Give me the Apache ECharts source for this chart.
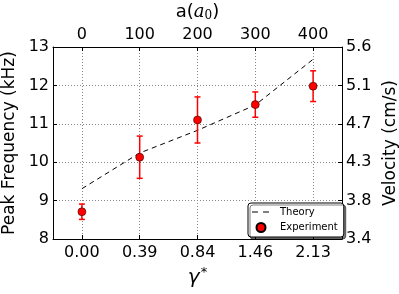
<!DOCTYPE html>
<html><head><meta charset="utf-8">
<script src="https://cdn.jsdelivr.net/npm/echarts@6/dist/echarts.min.js"></script>
<style>html,body{margin:0;padding:0;background:#fff}#c{width:399px;height:294px}</style>
</head><body><div id="c"></div>
<script>
const aValues = [0, 100, 200, 300, 400];
const gammaLabels = ['0.00', '0.39', '0.84', '1.46', '2.13'];
const freqTicks = [8, 9, 10, 11, 12, 13];
const velocityLabels = ['3.4', '3.8', '4.3', '4.7', '5.1', '5.6'];
const theory = [9.31, 10.24, 10.83, 11.49, 12.68];
const experiment = [8.71, 10.13, 11.1, 11.5, 11.98];
const experimentErr = [0.2, 0.55, 0.6, 0.33, 0.4];

const FONT = 'DejaVu Sans';
const chart = echarts.init(document.getElementById('c'), null, {renderer: 'canvas'});
const axisLine = {show: true, onZero: false, lineStyle: {color: '#000', width: 1}};
const tick = {show: true, inside: true, length: 4, lineStyle: {color: '#000'}, customValues: aValues};
const grid = {show: true, lineStyle: {color: '#888', type: [1, 2], width: 1}};
const dashIcon = 'path://M0,0L0.05,0L0,0.05Z M0,9L0.05,9L0,8.95Z M1,4L7,4L7,5.1L1,5.1Z M12,4L18,4L18,5.1L12,5.1Z M19.95,0L20,0L20,0.05Z';

chart.setOption({
  animation: false,
  backgroundColor: '#fff',
  grid: {left: 53, right: 57, top: 47, bottom: 55, containLabel: false, outerBoundsMode: 'none'},
  xAxis: [{
    type: 'value', position: 'bottom', min: -50, max: 450,
    axisLine: axisLine, axisTick: tick, splitLine: grid,
    axisLabel: {customValues: aValues, color: '#000', fontFamily: FONT, fontSize: 16, margin: 6,
      formatter: v => gammaLabels[aValues.indexOf(v)]},
    name: '{g|γ}{s|*}', nameLocation: 'middle', nameGap: 23,
    nameTextStyle: {rich: {
      g: {fontFamily: FONT, fontStyle: 'italic', fontSize: 20, color: '#000'},
      s: {fontFamily: FONT, fontSize: 13, color: '#000', verticalAlign: 'top', padding: [0, 0, 10, 1]}
    }}
  }, {
    type: 'value', position: 'top', min: -50, max: 450,
    axisLine: axisLine, axisTick: tick, splitLine: {show: false},
    axisLabel: {customValues: aValues, color: '#000', fontFamily: FONT, fontSize: 16, margin: 4},
    name: '{t|a(}{i|a}{sub|0}{t|)}', nameLocation: 'middle', nameGap: 25,
    nameTextStyle: {rich: {
      t: {fontFamily: FONT, fontSize: 18, color: '#000'},
      i: {fontFamily: 'DejaVu Serif', fontStyle: 'italic', fontSize: 18, color: '#000'},
      sub: {fontFamily: 'DejaVu Serif', fontSize: 12, color: '#000', padding: [8, 0, 0, 0]}
    }}
  }],
  yAxis: [{
    type: 'value', position: 'left', min: 8, max: 13, interval: 1,
    axisLine: axisLine, axisTick: {show: true, inside: true, length: 4, lineStyle: {color: '#000'}},
    splitLine: grid,
    axisLabel: {color: '#000', fontFamily: FONT, fontSize: 16, margin: 4},
    name: 'Peak Frequency (kHz)', nameLocation: 'middle', nameGap: 29, nameRotate: 90,
    nameTextStyle: {fontFamily: FONT, fontSize: 17, color: '#000'}
  }, {
    type: 'value', position: 'right', min: 8, max: 13, interval: 1,
    axisLine: axisLine, axisTick: {show: true, inside: true, length: 4, lineStyle: {color: '#000'}},
    splitLine: {show: false},
    axisLabel: {color: '#000', fontFamily: FONT, fontSize: 16, margin: 4,
      formatter: v => velocityLabels[freqTicks.indexOf(v)]},
    name: 'Velocity (cm/s)', nameLocation: 'middle', nameGap: 35, nameRotate: 90,
    nameTextStyle: {fontFamily: FONT, fontSize: 17, color: '#000'}
  }],
  legend: {
    orient: 'vertical', left: 248, top: 203, padding: [4, 6, 4, 3],
    backgroundColor: '#fff', borderColor: '#000', borderWidth: 1, borderRadius: 3,
    shadowColor: 'rgba(0,0,0,0.5)', shadowOffsetX: 2, shadowOffsetY: 2, shadowBlur: 0,
    itemWidth: 20, itemHeight: 9, itemGap: 5,
    textStyle: {fontFamily: FONT, fontSize: 10, color: '#000', padding: [0, 0, 0, 4]},
    data: [{name: 'Theory', icon: dashIcon, itemStyle: {color: '#000'}}, {name: 'Experiment', icon: 'circle'}]
  },
  series: [{
    name: 'Theory', type: 'line', xAxisIndex: 0, yAxisIndex: 0,
    data: aValues.map((a, i) => [a, theory[i]]),
    symbol: 'none', showSymbol: false,
    lineStyle: {color: '#000', width: 1, type: [5, 4]}, itemStyle: {color: '#000'}, z: 3
  }, {
    name: 'Experiment error', type: 'custom', xAxisIndex: 0, yAxisIndex: 0,
    data: aValues.map((a, i) => [a, experiment[i], experimentErr[i]]),
    renderItem: function (params, api) {
      const x = api.value(0), y = api.value(1), e = api.value(2);
      const t = api.coord([x, y + e]), b = api.coord([x, y - e]);
      const st = {stroke: '#ff0000', lineWidth: 1.5};
      return {type: 'group', children: [
        {type: 'line', shape: {x1: t[0], y1: t[1], x2: b[0], y2: b[1]}, style: st},
        {type: 'line', shape: {x1: t[0] - 3, y1: t[1], x2: t[0] + 3, y2: t[1]}, style: st},
        {type: 'line', shape: {x1: b[0] - 3, y1: b[1], x2: b[0] + 3, y2: b[1]}, style: st}
      ]};
    },
    itemStyle: {color: '#ff0000'}, z: 4
  }, {
    name: 'Experiment', type: 'scatter', xAxisIndex: 0, yAxisIndex: 0,
    data: aValues.map((a, i) => [a, experiment[i]]),
    symbol: 'circle', symbolSize: 8,
    itemStyle: {color: '#ff0000', borderColor: '#000', borderWidth: 0.5, opacity: 1}, z: 5
  }]
});
</script></body></html>
